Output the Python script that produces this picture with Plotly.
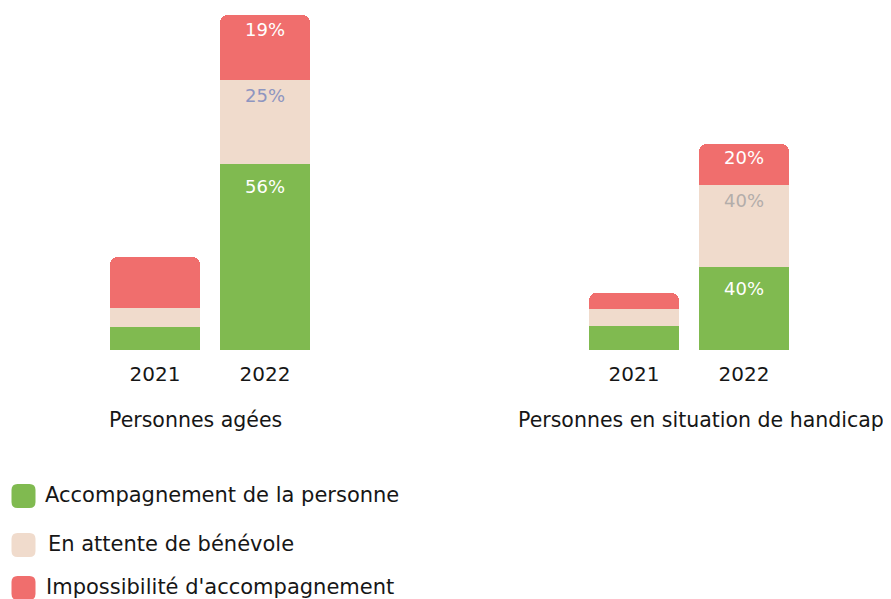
import plotly.graph_objects as go
from plotly.subplots import make_subplots

years = ["2021", "2022"]
groups = ["Personnes agées", "Personnes en situation de handicap"]
series_names = ["Accompagnement de la personne", "En attente de bénévole", "Impossibilité d'accompagnement"]

# values (relative units) per group, per series, per year
agees_accomp = [6.9, 55.5]
agees_attente = [5.7, 25.1]
agees_impossible = [15.2, 19.4]
handicap_accomp = [7.2, 24.8]
handicap_attente = [5.1, 24.5]
handicap_impossible = [4.8, 12.2]

agees_labels_accomp = ["", "56%"]
agees_labels_attente = ["", "25%"]
agees_labels_impossible = ["", "19%"]
handicap_labels_accomp = ["", "40%"]
handicap_labels_attente = ["", "40%"]
handicap_labels_impossible = ["", "20%"]

colors = ["#80BA50", "#F0DBCC", "#F06E6D"]
FONT = "DejaVu Sans, sans-serif"
W, H = 883, 591          # page has an 8px body margin
PLOT_H = 342


def px(x):
    return (x - 8) / W


def py(y):
    return 1 - (y - 8) / PLOT_H


fig = make_subplots(rows=1, cols=2)

group_data = [
    ([agees_accomp, agees_attente, agees_impossible],
     [agees_labels_accomp, agees_labels_attente, agees_labels_impossible],
     ["white", "#8E95C0", "white"]),
    ([handicap_accomp, handicap_attente, handicap_impossible],
     [handicap_labels_accomp, handicap_labels_attente, handicap_labels_impossible],
     ["white", "#B3ADAA", "white"]),
]
label_offsets = [22, 16, 14]

for gi, (vals, labels, tcolors) in enumerate(group_data):
    xref = "x" if gi == 0 else "x2"
    yref = "y" if gi == 0 else "y2"
    cum = [0.0, 0.0]
    for si in range(3):
        fig.add_trace(go.Bar(
            x=years, y=vals[si], name=series_names[si],
            marker=dict(color=colors[si], line=dict(width=0)),
            showlegend=False, hoverinfo="skip",
        ), row=1, col=gi + 1)
        for yi in range(2):
            cum[yi] += vals[si][yi]
            if labels[si][yi]:
                fig.add_annotation(text=labels[si][yi], x=yi, y=cum[yi],
                                   xref=xref, yref=yref,
                                   yshift=-label_offsets[si], showarrow=False,
                                   xanchor="center", yanchor="middle",
                                   font=dict(size=18, family=FONT, color=tcolors[si]))

fig.update_layout(
    barmode="stack", bargap=0.18, barcornerradius=8,
    width=W, height=H, margin=dict(l=0, r=0, t=0, b=H - PLOT_H, autoexpand=False),
    plot_bgcolor="white", paper_bgcolor="white",
    font=dict(family=FONT, color="#161616", size=21),
    showlegend=False,
    xaxis=dict(domain=[px(100), px(320)]),
    xaxis2=dict(domain=[px(579), px(799)]),
)
fig.update_xaxes(type="category", range=[-0.5, 1.5], autorange=False, automargin=False,
                 showgrid=False, showline=False, zeroline=False,
                 ticks="", tickfont=dict(size=20, family=FONT, color="#161616"),
                 ticklabelstandoff=10)
fig.update_yaxes(range=[0, PLOT_H / 3.35], autorange=False, visible=False,
                 showgrid=False, zeroline=False)

# group titles
title_x = [195, 701]
for gi, g in enumerate(groups):
    fig.add_annotation(text=g, x=px(title_x[gi]), y=py(420), xref="paper", yref="paper",
                       showarrow=False, xanchor="center", yanchor="middle",
                       font=dict(size=20.5, family=FONT, color="#161616"))

# manual legend with rounded squares
leg_y = [496, 545, 588]
leg_tx = [43, 46, 44]
for i, name in enumerate(series_names):
    r = 6
    s = 12
    path = (f"M {-s + r},{-s} L {s - r},{-s} Q {s},{-s} {s},{-s + r} L {s},{s - r} Q {s},{s} {s - r},{s} "
            f"L {-s + r},{s} Q {-s},{s} {-s},{s - r} L {-s},{-s + r} Q {-s},{-s} {-s + r},{-s} Z")
    fig.add_shape(type="path", path=path, xref="paper", yref="paper",
                  xsizemode="pixel", ysizemode="pixel",
                  xanchor=px(23.5), yanchor=py(leg_y[i]),
                  fillcolor=colors[i], line=dict(width=0))
    fig.add_annotation(text=name, x=px(leg_tx[i]), y=py(leg_y[i] - 1), xref="paper", yref="paper",
                       showarrow=False, xanchor="left", yanchor="middle",
                       font=dict(size=21, family=FONT, color="#161616"))

fig.write_html("out.html")
